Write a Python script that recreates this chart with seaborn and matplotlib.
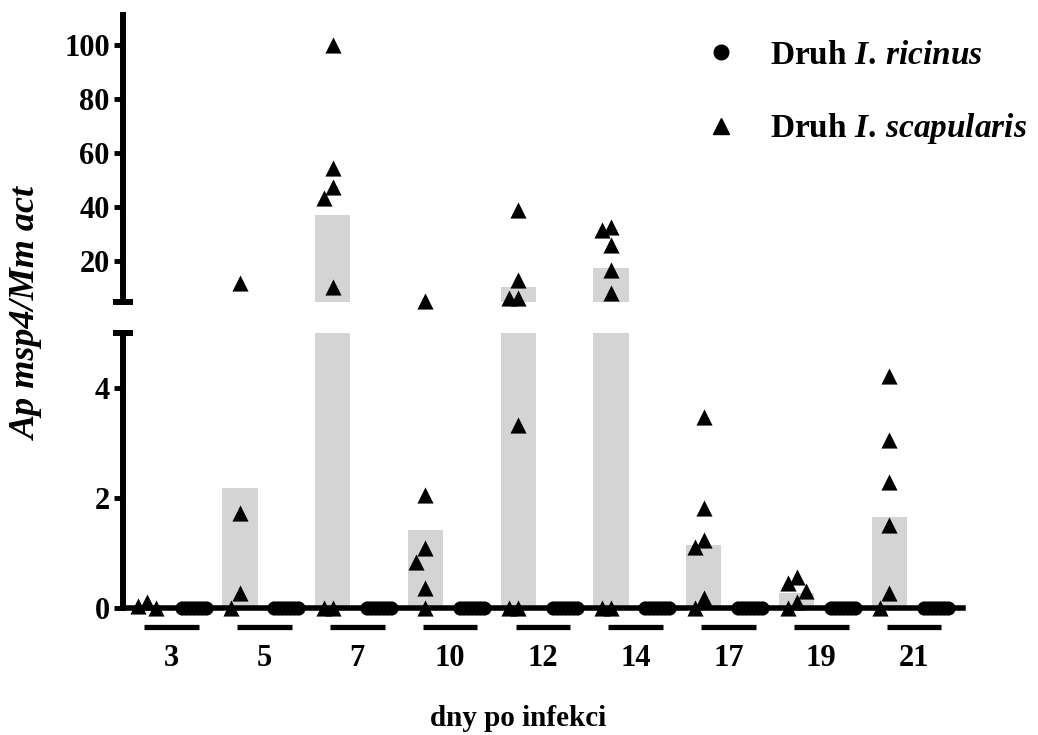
import numpy as np
import pandas as pd
import seaborn as sns
import matplotlib.pyplot as plt
from matplotlib.lines import Line2D

# days after infection
days = [3, 5, 7, 10, 12, 14, 17, 19, 21]

# I. scapularis – individual values per day
scap_3 = [0.11, 0.03, 0.0]
scap_5 = [11.9, 1.73, 0.27, 0.0]
scap_7 = [100.0, 54.4, 47.4, 43.3, 10.4, 0.0, 0.0]
scap_10 = [5.3, 2.05, 1.09, 0.84, 0.36, 0.0]
scap_12 = [38.9, 13.0, 6.5, 6.3, 3.33, 0.0, 0.0]
scap_14 = [32.6, 31.5, 26.0, 16.7, 8.5, 0.0, 0.0]
scap_17 = [3.47, 1.81, 1.24, 1.11, 0.18, 0.0]
scap_19 = [0.56, 0.45, 0.30, 0.10, 0.0]
scap_21 = [4.22, 3.05, 2.29, 1.51, 0.27, 0.0]
scap_vals = [scap_3, scap_5, scap_7, scap_10, scap_12, scap_14, scap_17, scap_19, scap_21]

# I. ricinus – all negative
ric_vals = [
    [0, 0, 0, 0, 0, 0, 0],
    [0, 0, 0, 0, 0, 0, 0],
    [0, 0, 0, 0, 0, 0, 0],
    [0, 0, 0, 0, 0, 0, 0],
    [0, 0, 0, 0, 0, 0, 0],
    [0, 0, 0, 0, 0, 0, 0],
    [0, 0, 0, 0, 0, 0, 0],
    [0, 0, 0, 0, 0, 0, 0],
    [0, 0, 0, 0, 0, 0, 0],
]

# grey bars (group means for I. scapularis)
scap_mean = [0.03, 2.18, 37.0, 1.42, 10.4, 17.6, 1.15, 0.27, 1.66]

BREAK = 5
sns.set_style("ticks")
plt.rcParams["font.family"] = ["Liberation Serif", "DejaVu Serif"]
plt.rcParams["font.weight"] = "bold"
plt.rcParams["mathtext.fontset"] = "custom"
plt.rcParams["mathtext.it"] = "Liberation Serif:italic:bold"
plt.rcParams["mathtext.rm"] = "Liberation Serif:bold"
for k in ["text.color", "axes.edgecolor", "axes.labelcolor", "xtick.color", "ytick.color"]:
    plt.rcParams[k] = "black"

fig = plt.figure(figsize=(10.38, 7.35), dpi=100)
ax_up = fig.add_axes([0.1185, 0.5891, 0.809, 0.3905])
ax_lo = fig.add_axes([0.1185, 0.1728, 0.809, 0.3741], sharex=ax_up)

pos = np.arange(len(days))
XLIM = (-0.26, 8.79)
bars = pd.DataFrame({"pos": pos, "mean": scap_mean})

for ax, lim in [(ax_up, (BREAK, 111)), (ax_lo, (0, BREAK))]:
    sns.barplot(data=bars, x="pos", y="mean", native_scale=True, orient="x",
                width=0.38, color="#d4d4d4", saturation=1, errorbar=None,
                linewidth=0, ax=ax, zorder=1)
    ax.set_xlim(XLIM)
    ax.set_ylim(lim)
    for s in ["top", "right"]:
        ax.spines[s].set_visible(False)
    ax.spines["left"].set_linewidth(4.3)
    ax.tick_params(axis="y", length=6.5, width=3.5, labelsize=22, pad=3)
    ax.set_xlabel("")
    ax.set_ylabel("")

ax_up.spines["bottom"].set_visible(False)
ax_up.tick_params(axis="x", bottom=False, labelbottom=False)
ax_up.set_yticks([20, 40, 60, 80, 100])
ax_lo.set_yticks([0, 2, 4])
ax_lo.spines["bottom"].set_linewidth(4)

# break caps on the y axis
for ax in (ax_up, ax_lo):
    ax.plot([-0.012, 0.012], [BREAK, BREAK], color="black", lw=4.3,
            transform=ax.get_yaxis_transform(), clip_on=False, solid_capstyle="butt")

fig.canvas.draw()
px_per_unit = (ax_lo.transData.transform((1, 0))[0] - ax_lo.transData.transform((0, 0))[0])


def spread(vals, ax, step_px=9, tol_px=15, cap_px=12):
    # simple beeswarm: push overlapping markers sideways
    vals = np.asarray(vals, dtype=float)
    ys = ax.transData.transform(np.column_stack([np.zeros(len(vals)), vals]))[:, 1]
    cands = [0]
    for j in range(1, 20):
        cands += [-j * step_px, j * step_px]
    offs = np.zeros(len(vals))
    placed = []
    for i in np.argsort(-vals, kind="stable"):
        for c in cands:
            if all(abs(ys[i] - py) >= tol_px or abs(c - pd_) >= step_px for py, pd_ in placed):
                break
        offs[i] = c
        placed.append((ys[i], c))
    m = np.abs(offs).max() if len(offs) else 0
    if m > cap_px:
        offs *= cap_px / m
    return offs / px_per_unit


RIC_SHIFT = 0.5
rows = []
for i, (sv, rv) in enumerate(zip(scap_vals, ric_vals)):
    for ax, sel in [(ax_up, lambda v: v > BREAK), (ax_lo, lambda v: v <= BREAK)]:
        s_sub = [v for v in sv if sel(v)]
        if s_sub:
            for v, o in zip(s_sub, spread(s_sub, ax)):
                rows.append(("scap", ax, pos[i] + o, v))
        r_sub = [v for v in rv if sel(v)]
        if r_sub:
            for v, o in zip(r_sub, spread(r_sub, ax)):
                rows.append(("ric", ax, pos[i] + RIC_SHIFT + o, v))
pts = pd.DataFrame(rows, columns=["species", "ax", "x", "y"])

for ax in (ax_up, ax_lo):
    d = pts[(pts["ax"] == ax) & (pts["species"] == "scap")]
    if len(d):
        sns.scatterplot(data=d, x="x", y="y", marker="^", s=135, color="black",
                        linewidth=0, clip_on=False, zorder=4, legend=False, ax=ax)
    d = pts[(pts["ax"] == ax) & (pts["species"] == "ric")]
    if len(d):
        sns.scatterplot(data=d, x="x", y="y", marker="o", s=105, color="black",
                        linewidth=0, clip_on=False, zorder=4, legend=False, ax=ax)
    ax.set_xlabel("")
    ax.set_ylabel("")
    ax.set_xlim(XLIM)

# day labels with underline bars
lab_pos = pos + 0.265
ax_lo.set_xticks(lab_pos, labels=[str(d) for d in days])
ax_lo.tick_params(axis="x", length=0, pad=26, labelsize=22)
ax_lo.hlines([-0.35] * len(days), pos - 0.03, pos + 0.56, color="black", lw=3.8,
             clip_on=False)

fig.text(0.026, 0.574, "Ap msp4/Mm act", rotation=90, ha="center", va="center",
         fontsize=26, fontstyle="italic", fontweight="bold")
fig.text(0.499, 0.023, "dny po infekci", ha="center", va="center", fontsize=21,
         fontweight="bold")

handles = [Line2D([], [], ls="none", marker="o", markersize=10.5, color="black"),
           Line2D([], [], ls="none", marker="^", markersize=11.5, color="black")]
labels = [r"Druh $\mathit{I.\,ricinus}$", r"Druh $\mathit{I.\,scapularis}$"]
ax_up.legend(handles, labels, loc="upper left", bbox_to_anchor=(0.679, 0.946),
             bbox_transform=fig.transFigure, frameon=False, handlelength=1,
             handletextpad=0.95, labelspacing=1.22, fontsize=24, borderpad=0,
             borderaxespad=0)

fig.savefig("out.png", dpi=100)
